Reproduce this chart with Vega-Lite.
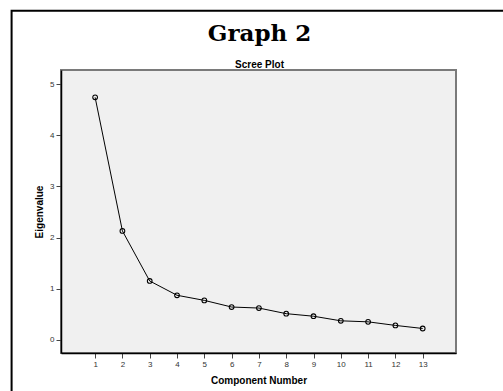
{
  "$schema": "https://vega.github.io/schema/vega-lite/v6.json",
  "width": 395,
  "height": 283,
  "autosize": {"type": "none"},
  "padding": {"left": 61, "top": 70, "right": 47, "bottom": 38},
  "background": "white",
  "title": {
    "text": "Graph 2",
    "subtitle": "Scree Plot",
    "anchor": "middle",
    "frame": "group",
    "font": "DejaVu Serif",
    "fontSize": 23,
    "fontWeight": "bold",
    "color": "black",
    "subtitleFont": "Liberation Sans",
    "subtitleFontSize": 10,
    "subtitleFontWeight": "bold",
    "subtitleColor": "black",
    "subtitlePadding": 14,
    "offset": -60,
    "dx": 1
  },
  "config": {
    "view": {"fill": "#f0f0f0", "stroke": "#7a7a7a", "strokeWidth": 2},
    "axis": {
      "grid": false,
      "domainColor": "black",
      "domainWidth": 1.5,
      "tickColor": "#444",
      "tickSize": 5,
      "labelFont": "Liberation Sans",
      "labelFontSize": 8,
      "labelColor": "#333",
      "labelPadding": 2,
      "labelFlush": false,
      "labelOverlap": false,
      "titleFont": "Liberation Sans",
      "titleFontSize": 10,
      "titleFontWeight": "bold",
      "titleColor": "black"
    },
    "axisX": {"titlePadding": 7, "labelAngle": 0},
    "axisY": {"titlePadding": 5}
  },
  "layer": [
    {
      "data": {"name": "scree", "values": [
        {"component": 1, "eigenvalue": 4.745},
        {"component": 2, "eigenvalue": 2.13},
        {"component": 3, "eigenvalue": 1.15},
        {"component": 4, "eigenvalue": 0.87},
        {"component": 5, "eigenvalue": 0.77},
        {"component": 6, "eigenvalue": 0.64},
        {"component": 7, "eigenvalue": 0.62},
        {"component": 8, "eigenvalue": 0.51},
        {"component": 9, "eigenvalue": 0.46},
        {"component": 10, "eigenvalue": 0.37},
        {"component": 11, "eigenvalue": 0.35},
        {"component": 12, "eigenvalue": 0.28},
        {"component": 13, "eigenvalue": 0.22}
      ]},
      "encoding": {
        "x": {"field": "component", "type": "quantitative", "title": "Component Number",
              "scale": {"domain": [-0.25, 14.22], "nice": false, "zero": false},
              "axis": {"values": [1,2,3,4,5,6,7,8,9,10,11,12,13], "format": "d", "labelOverlap": false}},
        "y": {"field": "eigenvalue", "type": "quantitative", "title": "Eigenvalue",
              "scale": {"domain": [-0.26, 5.28], "nice": false, "zero": false},
              "axis": {"values": [0,1,2,3,4,5], "format": "d", "labelOverlap": false}}
      },
      "layer": [
        {"mark": {"type": "line", "color": "black", "strokeWidth": 1}},
        {"mark": {"type": "point", "shape": "circle", "filled": false, "color": "black", "size": 22, "strokeWidth": 1.1, "opacity": 1}}
      ]
    },
    {
      "data": {"values": [{}]},
      "mark": {"type": "rect", "fill": null, "stroke": "black", "strokeWidth": 2, "clip": false},
      "encoding": {
        "x": {"datum": -2.06, "type": "quantitative", "title": "Component Number",
              "scale": {"domain": [-0.25, 14.22], "nice": false, "zero": false},
              "axis": {"values": [1,2,3,4,5,6,7,8,9,10,11,12,13], "format": "d", "labelOverlap": false}},
        "x2": {"datum": 20},
        "y": {"datum": 6.44, "type": "quantitative", "title": "Eigenvalue",
              "scale": {"domain": [-0.26, 5.28], "nice": false, "zero": false},
              "axis": {"values": [0,1,2,3,4,5], "format": "d", "labelOverlap": false}},
        "y2": {"datum": -2}
      }
    }
  ]
}
